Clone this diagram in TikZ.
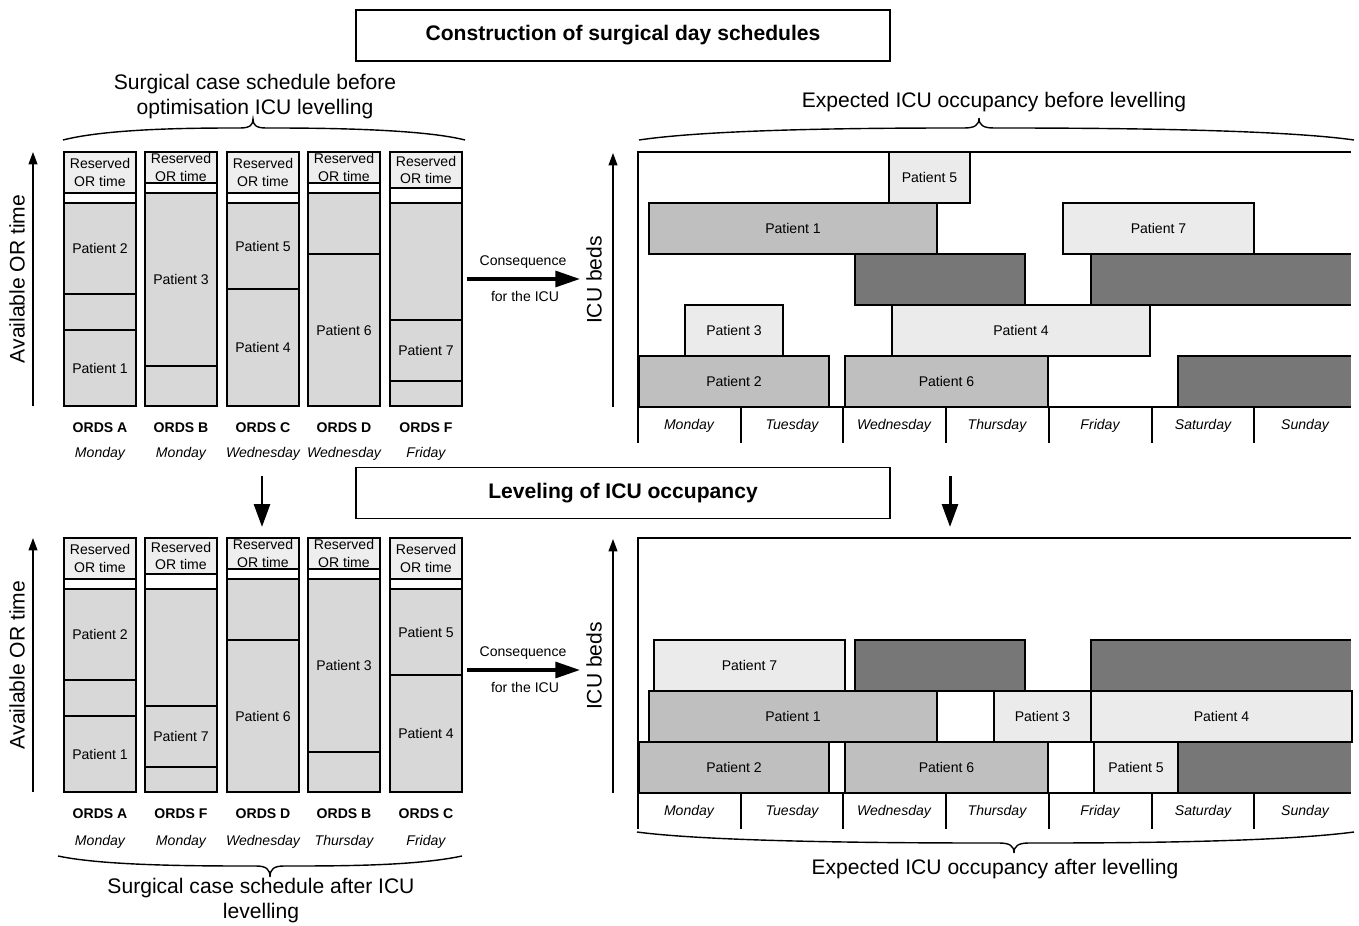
\documentclass[tikz,border=0pt]{standalone}
\usepackage{fontspec}
\setmainfont{Liberation Sans}
\usetikzlibrary{arrows.meta}

\definecolor{slotgray}{HTML}{D8D8D8}
\definecolor{resgray}{HTML}{EEEEEE}
\definecolor{lightbar}{HTML}{EBEBEB}
\definecolor{midbar}{HTML}{BFBFBF}
\definecolor{darkbar}{HTML}{777777}

\begin{document}
\begin{tikzpicture}[
    x=0.02cm, y=-0.02cm,
    lbl/.style={font=\fontsize{8}{10}\selectfont, inner sep=0pt},
    ords/.style={font=\fontsize{8}{10}\selectfont\bfseries, inner sep=0pt},
    day/.style={font=\fontsize{8}{10}\selectfont\itshape, inner sep=0pt},
    captext/.style={font=\fontsize{12}{14.2}\selectfont, align=center, inner sep=0pt},
    titlebox/.style={draw, line width=1.1pt, minimum width=10.68cm, minimum height=1.02cm,
                     inner sep=0pt, font=\fontsize{12}{14}\selectfont\bfseries},
    slot/.style={draw, line width=0.8pt, fill=slotgray},
    resv/.style={draw, line width=0.8pt, fill=resgray},
    icubar/.style={draw, line width=0.8pt},
    yaxis/.style={line width=0.8pt, -{Triangle[length=7pt, width=5pt]}},
    bigarrow/.style={line width=2pt, -{Triangle[length=14pt, width=9pt]}},
    downarrow/.style={line width=1.7pt, -{Triangle[length=13pt, width=9pt]}},
    brc/.style={line width=0.8pt},
]
\useasboundingbox (0,0) rectangle (1359,926);

% ---- titles ----
\node[titlebox] (title-top) at (623,35.5) {Construction of surgical day schedules};
\node[titlebox] (title-mid) at (623,493) {Leveling of ICU occupancy};

% ---- OR day schedules before levelling ----
\foreach \xl/\rs/\wh/\cuts/\ord/\dname in {
    64/193/203/{294,330}/A/Monday,
    145/183/193/{366}/B/Monday,
    227/193/203/{289}/C/Wednesday,
    308/183/193/{254}/D/Wednesday,
    390/188/203/{320,381}/F/Friday} {
  \draw[slot] (\xl,\wh) rectangle ({\xl+72},406);
  \foreach \c in \cuts \draw[line width=0.8pt] (\xl,\c) -- ({\xl+72},\c);
  \draw[line width=0.8pt, fill=white] (\xl,\rs) rectangle ({\xl+72},\wh);
  \draw[resv] (\xl,152) rectangle ({\xl+72},\rs);
  \node[lbl, align=center] (res-top-\ord) at ({\xl+36},{(152+\rs)/2}) {Reserved\\OR time};
  \node[ords] (ords-top-\ord) at ({\xl+36},428) {ORDS \ord};
  \node[day] (day-top-\ord) at ({\xl+36},454) {\dname};
}
\foreach \xl/\ya/\yb/\n in {64/203/294/2, 64/330/406/1, 145/193/366/3, 227/203/289/5,
                            227/289/406/4, 308/254/406/6, 390/320/381/7}
  \node[lbl] (or-top-p\n) at ({\xl+36},{(\ya+\yb)/2}) {Patient \n};

% ---- OR day schedules after levelling ----
\begin{scope}[shift={(0,386)}]
\foreach \xl/\rs/\wh/\cuts/\ord/\dname in {
    64/193/203/{294,330}/A/Monday,
    145/188/203/{320,381}/F/Monday,
    227/183/193/{254}/D/Wednesday,
    308/183/193/{366}/B/Thursday,
    390/193/203/{289}/C/Friday} {
  \draw[slot] (\xl,\wh) rectangle ({\xl+72},406);
  \foreach \c in \cuts \draw[line width=0.8pt] (\xl,\c) -- ({\xl+72},\c);
  \draw[line width=0.8pt, fill=white] (\xl,\rs) rectangle ({\xl+72},\wh);
  \draw[resv] (\xl,152) rectangle ({\xl+72},\rs);
  \node[lbl, align=center] (res-bot-\ord) at ({\xl+36},{(152+\rs)/2}) {Reserved\\OR time};
  \node[ords] (ords-bot-\ord) at ({\xl+36},428) {ORDS \ord};
  \node[day] (day-bot-\ord) at ({\xl+36},456) {\dname};
}
\foreach \xl/\ya/\yb/\n in {64/203/294/2, 64/330/406/1, 145/320/381/7, 227/254/406/6,
                            308/193/366/3, 390/203/289/5, 390/289/406/4}
  \node[lbl] (or-bot-p\n) at ({\xl+36},{(\ya+\yb)/2}) {Patient \n};
\end{scope}

% ---- OR time axes ----
\foreach \p/\dy in {top/0, bot/386} {
  \coordinate (ort-\p-s) at (33,{406+\dy});
  \coordinate (ort-\p-e) at (33,{152+\dy});
  \draw[yaxis] (ort-\p-s) -- (ort-\p-e);
  \node[captext, rotate=90] (ortlab-\p) at (17,{279+\dy}) {Available OR time};
}

% ---- ICU charts, common parts ----
\foreach \p/\dy in {top/0, bot/386} {
  \begin{scope}[shift={(0,\dy)}]
    \draw[line width=0.8pt] (1351,152) -- (638,152) -- (638,407) -- (1351,407);
    \foreach \x/\d in {638/Monday, 741/Tuesday, 843/Wednesday, 946/Thursday,
                       1049/Friday, 1152/Saturday, 1254/Sunday} {
      \draw[line width=0.8pt] (\x,407) -- (\x,443);
      \node[day] (icu-\p-\d) at ({\x+51},426) {\d};
    }
    % beds taken by other patients
    \draw[icubar, fill=darkbar] (855,254) rectangle (1025,305);
    \foreach \xa/\r in {1091/3, 1178/1} {
      \fill[darkbar] (\xa,{407-51*\r}) rectangle (1351,{458-51*\r});
      \draw[line width=0.8pt] (1351,{407-51*\r}) -- (\xa,{407-51*\r})
                              -- (\xa,{458-51*\r}) -- (1351,{458-51*\r});
    }
    \coordinate (beds-\p-s) at (613,407);
    \coordinate (beds-\p-e) at (613,153);
    \draw[yaxis] (beds-\p-s) -- (beds-\p-e);
    \node[captext, rotate=90] (bedlab-\p) at (594,280) {ICU beds};
  \end{scope}
}

% ---- ICU occupancy before levelling ----
\foreach \xa/\xb/\r/\fc/\n in {889/970/5/lightbar/5, 649/937/4/midbar/1,
    1063/1254/4/lightbar/7, 685/783/2/lightbar/3, 892/1150/2/lightbar/4,
    639/829/1/midbar/2, 845/1048/1/midbar/6} {
  \draw[icubar, fill=\fc] (\xa,{407-51*\r}) rectangle (\xb,{458-51*\r});
  \node[lbl] (icu-top-p\n) at ({(\xa+\xb)/2},{432.5-51*\r}) {Patient \n};
}

% ---- ICU occupancy after levelling ----
\begin{scope}[shift={(0,386)}]
\foreach \xa/\xb/\r/\fc/\n in {654/845/3/lightbar/7, 649/937/2/midbar/1,
    994/1091/2/lightbar/3, 1091/1352/2/lightbar/4, 639/829/1/midbar/2,
    845/1048/1/midbar/6, 1094/1178/1/lightbar/5} {
  \draw[icubar, fill=\fc] (\xa,{407-51*\r}) rectangle (\xb,{458-51*\r});
  \node[lbl] (icu-bot-p\n) at ({(\xa+\xb)/2},{432.5-51*\r}) {Patient \n};
}
\end{scope}

% ---- consequence arrows ----
\foreach \p/\y in {top/279, bot/670} {
  \coordinate (cq-\p-s) at (467,\y);
  \coordinate (cq-\p-e) at (580,\y);
  \draw[bigarrow] (cq-\p-s) -- (cq-\p-e);
  \node[lbl] (cq-\p-a) at (523,{\y-17}) {Consequence};
  \node[lbl] (cq-\p-b) at (525,{\y+17}) {for the ICU};
}

% ---- levelling arrows ----
\coordinate (dn-or-s) at (262,476);
\coordinate (dn-or-e) at (262,527);
\coordinate (dn-icu-s) at (950,476);
\coordinate (dn-icu-e) at (950,527);
\draw[downarrow] (dn-or-s) -- (dn-or-e);
\draw[downarrow] (dn-icu-s) -- (dn-icu-e);

% ---- braces and captions ----
\draw[brc] (63,140) .. controls (110,128) and (200,128) .. (240,128)
  .. controls (250,128) and (253,125) .. (253,119)
  .. controls (253,125) and (256,128) .. (266,128)
  .. controls (306,128) and (418,128) .. (465,140);
\node[captext] (cap-or-top) at (255,97) {Surgical case schedule before\\optimisation ICU levelling};

\draw[brc] (639,140) .. controls (720,128) and (900,128) .. (964,128)
  .. controls (975,128) and (979,125) .. (979,118)
  .. controls (979,125) and (983,128) .. (994,128)
  .. controls (1060,128) and (1270,128) .. (1354,140);
\node[captext] (cap-icu-top) at (994,102) {Expected ICU occupancy before levelling};

\draw[brc] (58,856) .. controls (105,866) and (200,866) .. (256,866)
  .. controls (266,866) and (270,869) .. (270,877)
  .. controls (270,869) and (274,866) .. (284,866)
  .. controls (340,866) and (415,866) .. (462,856);
\node[captext] (cap-or-bot) at (261,901) {Surgical case schedule after ICU\\levelling};

\draw[brc] (637,832) .. controls (720,843) and (930,843) .. (999,843)
  .. controls (1010,843) and (1014,846) .. (1014,853)
  .. controls (1014,846) and (1018,843) .. (1029,843)
  .. controls (1100,843) and (1270,843) .. (1354,832);
\node[captext] (cap-icu-bot) at (995,869) {Expected ICU occupancy after levelling};

\end{tikzpicture}
\end{document}
